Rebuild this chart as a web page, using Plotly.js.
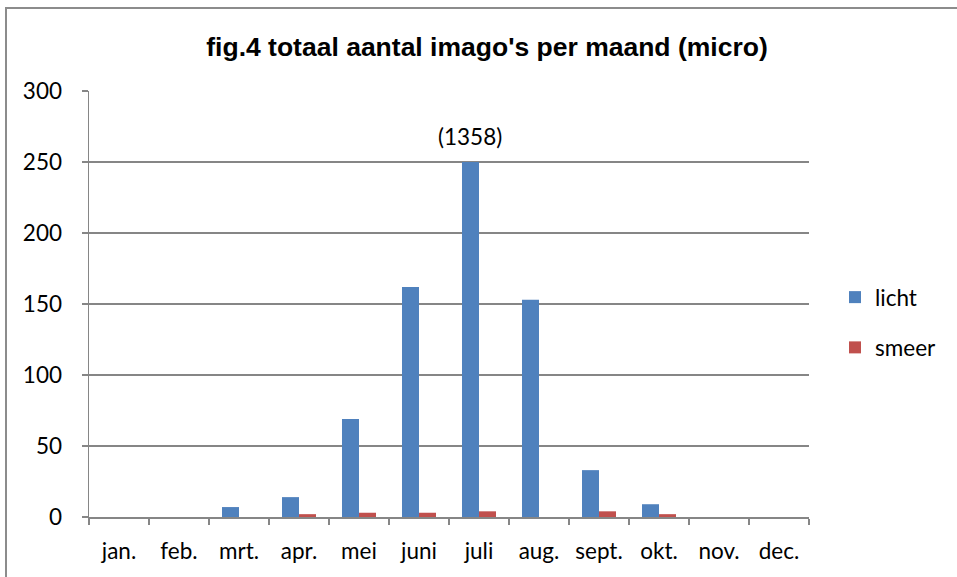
<!DOCTYPE html>
<html>
<head>
<meta charset="utf-8">
<script src="https://cdn.plot.ly/plotly-3.0.1.min.js"></script>
<style>
  html, body { margin: 0; padding: 0; background: #fff; overflow: hidden; }
  #chart { position: absolute; left: 0; top: 0; width: 957px; height: 577px; }
  #frame { position: absolute; left: 5px; top: 7px; width: 1000px; height: 700px;
           border-left: 2px solid #8c8c8c; border-top: 2px solid #8c8c8c; pointer-events: none; }
</style>
</head>
<body>
<div id="chart"></div>
<div id="frame"></div>
<script>
const months = ['jan.', 'feb.', 'mrt.', 'apr.', 'mei', 'juni', 'juli', 'aug.', 'sept.', 'okt.', 'nov.', 'dec.'];
const licht = [0, 0, 7, 14, 69, 162, 250, 153, 33, 9, 0, 0];
const smeer = [0, 0, 0, 2, 3, 3, 4, 0, 4, 2, 0, 0];
const yTicks = [0, 50, 100, 150, 200, 250, 300];
const labelMonth = 'juli';
const labelText = '(1358)';

const tickFont = { family: 'Lato, "Open Sans", sans-serif', size: 22.5, color: '#000' };

const traces = [
  { type: 'bar', name: 'licht', x: months, y: licht, marker: { color: '#4f81bd' },
    legendgroup: 'a', hoverinfo: 'y' },
  { type: 'bar', name: 'smeer', x: months, y: smeer, marker: { color: '#c0504d' },
    legendgroup: 'b', hoverinfo: 'y' }
];

const layout = {
  width: 957, height: 577,
  margin: { l: 89, r: 148, t: 91, b: 60 },
  paper_bgcolor: '#fff', plot_bgcolor: '#fff',
  barmode: 'group', bargap: 0.433, bargroupgap: 0,
  title: { text: "fig.4 totaal aantal imago's per maand (micro)",
           font: { family: '"Liberation Sans", Arial, sans-serif', size: 26.5, color: '#000', weight: 'bold' },
           x: 487 / 957, xanchor: 'center', xref: 'container', y: 1 - 47 / 577, yanchor: 'middle', yref: 'container' },
  xaxis: {
    type: 'category', categoryorder: 'array', categoryarray: months,
    showline: true, linecolor: '#868686', linewidth: 1.5,
    ticks: 'outside', ticklen: 6, tickcolor: '#868686', tickwidth: 1.5,
    tickson: 'boundaries', showgrid: false, zeroline: false,
    tickfont: tickFont, ticklabelstandoff: 13
  },
  yaxis: {
    range: [0, 300], tickvals: yTicks, ticktext: yTicks.map(String),
    showline: true, linecolor: '#868686', linewidth: 1.5,
    ticks: 'outside', ticklen: 6, tickcolor: '#868686', tickwidth: 1.5,
    showgrid: true, gridcolor: '#868686', gridwidth: 1.5, zeroline: false,
    tickfont: tickFont, ticklabelstandoff: 15
  },
  legend: {
    x: 835 / 957, xref: 'container', xanchor: 'left',
    y: 1 - 276 / 577, yref: 'container', yanchor: 'top',
    font: tickFont, tracegroupgap: 18, bgcolor: 'rgba(0,0,0,0)'
  },
  annotations: [{
    x: labelMonth, y: licht[months.indexOf(labelMonth)], xref: 'x', yref: 'y',
    text: labelText, showarrow: false, yanchor: 'bottom', yshift: 10, xshift: -9,
    font: tickFont
  }],
  showlegend: true
};

Plotly.newPlot('chart', traces, layout, { displayModeBar: false, staticPlot: true });
</script>
</body>
</html>
